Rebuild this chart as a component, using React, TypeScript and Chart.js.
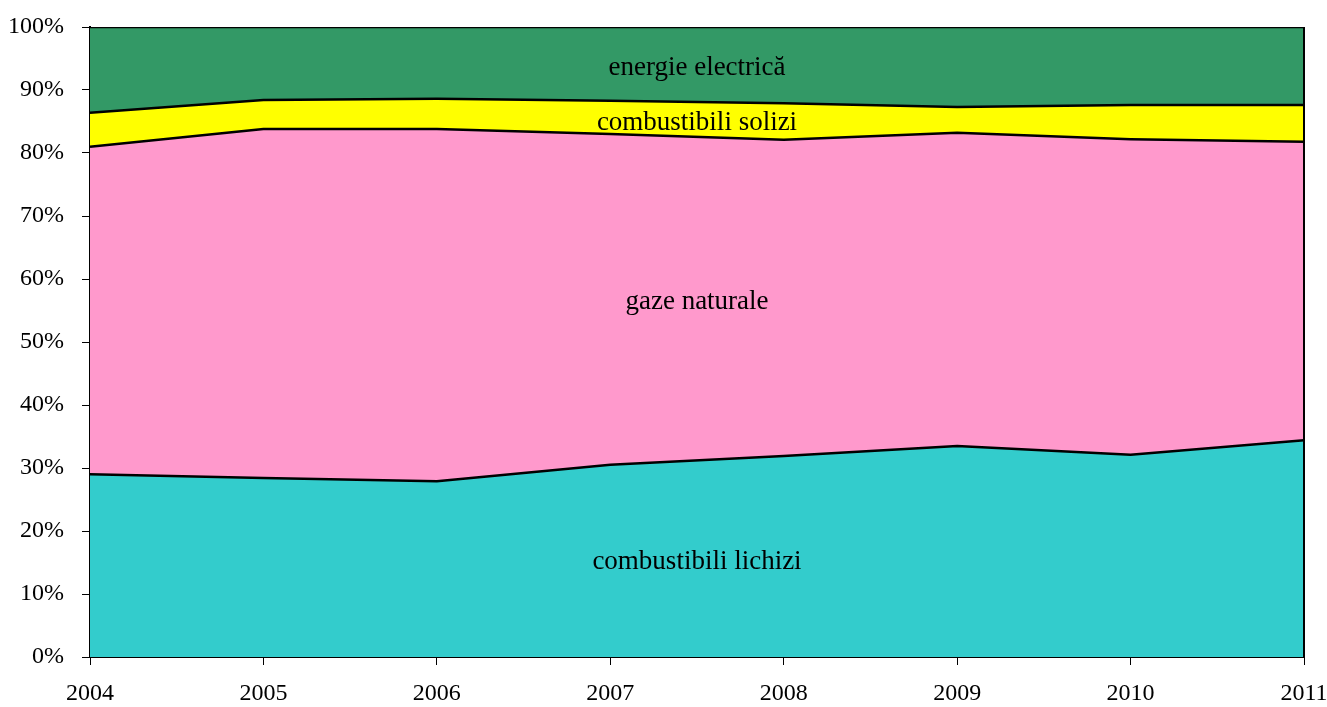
import React, { useEffect, useRef } from "react";
import { Chart, registerables } from "chart.js";

Chart.register(...registerables);

const years = ["2004", "2005", "2006", "2007", "2008", "2009", "2010", "2011"];
const lichizi = [29.0, 28.4, 27.9, 30.5, 31.9, 33.5, 32.1, 34.4];
const gaze = [52.0, 55.4, 55.9, 52.5, 50.2, 49.7, 50.1, 47.4];
const solizi = [5.4, 4.6, 4.8, 5.3, 5.8, 4.1, 5.4, 5.8];
const electrica = [13.6, 11.6, 11.4, 11.7, 12.1, 12.7, 12.4, 12.4];
const seriesNames = ["combustibili lichizi", "gaze naturale", "combustibili solizi", "energie electrică"];
const seriesColors = ["#33CCCC", "#FF99CC", "#FFFF00", "#339966"];

const FONT = "'Liberation Serif', 'Times New Roman', serif";

export default function App() {
  const ref = useRef<HTMLCanvasElement | null>(null);
  useEffect(() => {
    document.body.style.margin = "0";
    const all = [lichizi, gaze, solizi, electrica];
    const labelPlugin = {
      id: "areaLabels",
      afterDatasetsDraw(chart: any) {
        const { ctx, chartArea, scales } = chart;
        const y = scales.y;
        ctx.save();
        ctx.strokeStyle = "#000";
        ctx.lineWidth = 2;
        ctx.beginPath();
        ctx.moveTo(chartArea.right, chartArea.top);
        ctx.lineTo(chartArea.right, chartArea.bottom);
        ctx.stroke();
        ctx.font = `27px ${FONT}`;
        ctx.fillStyle = "#000";
        ctx.textAlign = "center";
        ctx.textBaseline = "middle";
        const cx = (chartArea.left + chartArea.right) / 2;
        let base = 0;
        all.forEach((arr, i) => {
          const v = (arr[3] + arr[4]) / 2;
          const mid = base + v / 2;
          base += v;
          ctx.fillText(seriesNames[i], cx, y.getPixelForValue(mid) + 3.5);
        });
        ctx.restore();
      },
    };
    const chart = new Chart(ref.current!, {
      type: "line",
      data: {
        labels: years,
        datasets: all.map((arr, i) => ({
          label: seriesNames[i],
          data: arr,
          backgroundColor: seriesColors[i],
          borderColor: "#000",
          borderWidth: 2.5,
          pointRadius: 0,
          tension: 0,
          fill: i === 0 ? "origin" : "-1",
        })),
      },
      options: {
        animation: false,
        responsive: true,
        maintainAspectRatio: false,
        layout: { padding: { top: 27, right: 23, left: 0, bottom: 0 } },
        plugins: { legend: { display: false }, tooltip: { enabled: false } },
        scales: {
          x: {
            offset: false,
            grid: { display: true, drawOnChartArea: false, tickLength: 8, color: "#000", lineWidth: 1 },
            border: { color: "#000", width: 2 },
            ticks: { color: "#000", font: { family: FONT, size: 24 }, padding: 14, maxRotation: 0 },
            afterFit(scale: any) {
              scale.height = 50;
              scale.paddingLeft = 0;
              scale.paddingRight = 0;
            },
          },
          y: {
            stacked: true,
            min: 0,
            max: 100,
            grid: { display: true, drawOnChartArea: false, tickLength: 8, color: "#000", lineWidth: 1 },
            border: { color: "#000", width: 2 },
            ticks: {
              stepSize: 10,
              color: "#000",
              font: { family: FONT, size: 24 },
              padding: 18,
              callback: (v: any) => `${v}%`,
            },
            afterFit(scale: any) {
              scale.width = 90;
              scale.paddingTop = 0;
              scale.paddingBottom = 0;
            },
          },
        },
      },
      plugins: [labelPlugin],
    });
    return () => chart.destroy();
  }, []);
  return (
    <div style={{ position: "absolute", left: 0, top: 0, width: 1327, height: 707, background: "#fff" }}>
      <canvas ref={ref} />
    </div>
  );
}
